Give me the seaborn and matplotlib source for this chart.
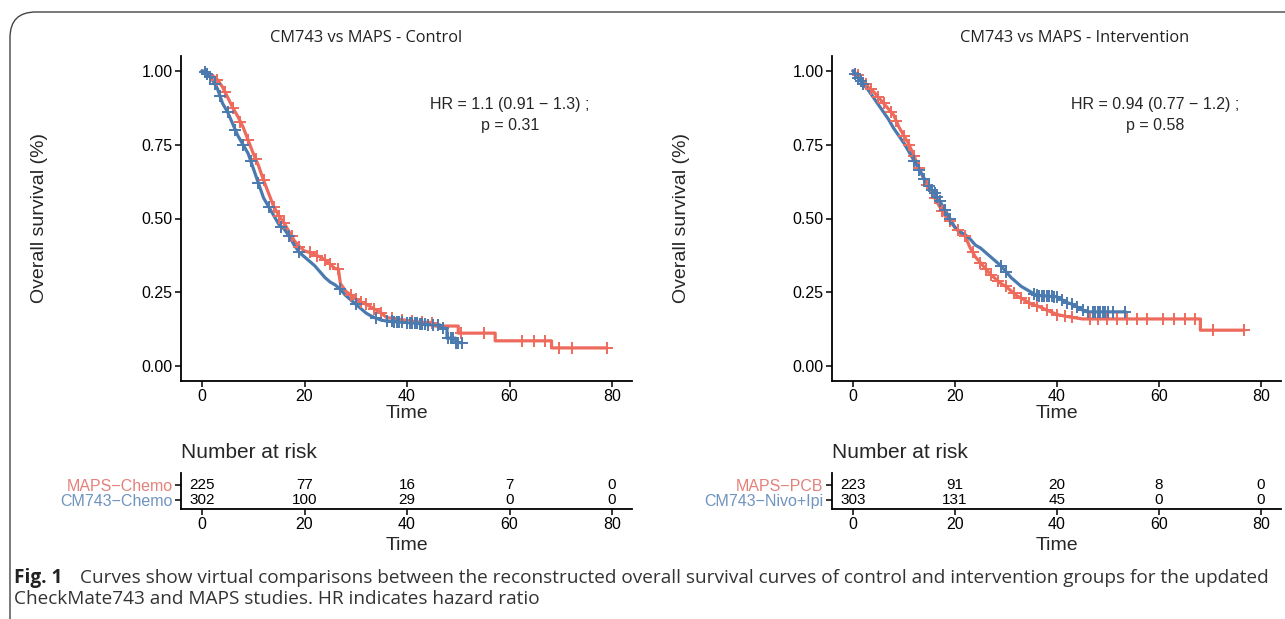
import numpy as np
import pandas as pd
import matplotlib
matplotlib.use("Agg")
import matplotlib.pyplot as plt
import seaborn as sns
from matplotlib.patches import FancyBboxPatch

# ---------------- data (curve vertices) ----------------
# Control panel
ctrl_maps_t = [0, 1, 2, 3, 4, 5, 6, 7, 8, 9, 10, 11, 12, 13, 14, 15, 16, 17, 18, 19, 20, 21, 22, 23, 24, 25, 26,
               26.6, 27, 28, 29, 30, 31, 32, 33, 34, 35, 36, 38, 40, 42, 44.8, 45.5, 50, 50, 57.2, 57.2,
               68.2, 68.2, 79]
ctrl_maps_s = [1.00, 0.995, 0.985, 0.97, 0.945, 0.91, 0.875, 0.845, 0.81, 0.765, 0.72, 0.68, 0.63, 0.585, 0.54,
               0.51, 0.485, 0.455, 0.425, 0.405, 0.39, 0.385, 0.378, 0.37, 0.36, 0.345, 0.33,
               0.33, 0.28, 0.255, 0.24, 0.228, 0.218, 0.21, 0.20, 0.19, 0.18, 0.165, 0.16, 0.155, 0.15,
               0.148, 0.136, 0.136, 0.112, 0.112, 0.086, 0.086, 0.062, 0.062]
ctrl_maps_cens = [3, 4.5, 6, 7.5, 9, 10.5, 12, 14, 15, 16, 17.5, 19, 21, 22.5, 24, 25, 26.5, 29, 30, 31, 32, 33.5,
                  35, 37, 39, 41, 43, 44.8, 50.5, 55, 62.4, 64.8, 67, 69.7, 72.1, 79]

ctrl_cm_t = [0, 1, 2, 3, 4, 5, 6, 7, 8, 9, 10, 11, 12, 13, 14, 15, 16, 17, 18, 19, 20, 21, 22, 23, 24, 25, 26, 27,
             28, 29, 30, 31, 32, 33, 34, 35, 36, 38, 40, 42, 44, 46.4, 46.4, 47.8, 47.8, 49.5, 49.5, 50.7]
ctrl_cm_s = [1.00, 0.99, 0.97, 0.94, 0.89, 0.86, 0.82, 0.78, 0.75, 0.72, 0.67, 0.62, 0.57, 0.54, 0.51, 0.48, 0.465,
             0.44, 0.41, 0.385, 0.37, 0.355, 0.34, 0.32, 0.30, 0.285, 0.275, 0.26, 0.24, 0.225, 0.21, 0.195, 0.18,
             0.17, 0.162, 0.156, 0.153, 0.15, 0.148, 0.145, 0.14, 0.14, 0.128, 0.128, 0.095, 0.095, 0.08, 0.08]
ctrl_cm_cens = [0.5, 1, 1.5, 2.5, 3.5, 5, 6.5, 8, 9.5, 11, 13, 15.5, 17, 19, 27, 30, 34, 36, 37, 37.5, 38, 38.5,
                39, 40, 40.5, 41, 41.5, 42, 42.5, 43, 43.5, 44, 45, 46, 47, 48, 48.5, 49, 49.5, 50, 50.7]

# Intervention panel
int_maps_t = [0, 1, 2, 3, 4, 5, 6, 7, 8, 9, 10, 11, 12, 13, 14, 15, 16, 17, 18, 19, 20, 21, 22, 23, 24, 25, 26, 27,
              28, 29, 30, 31, 32, 33, 34, 35, 36, 37, 38, 40, 42, 45, 68.1, 68.1, 76.7]
int_maps_s = [1.0, 0.985, 0.965, 0.945, 0.93, 0.91, 0.89, 0.87, 0.85, 0.81, 0.78, 0.75, 0.71, 0.67, 0.63, 0.60,
              0.57, 0.54, 0.51, 0.49, 0.47, 0.45, 0.44, 0.40, 0.37, 0.35, 0.33, 0.31, 0.295, 0.28, 0.27, 0.255,
              0.24, 0.23, 0.22, 0.21, 0.205, 0.198, 0.19, 0.175, 0.168, 0.16, 0.16, 0.122, 0.122]
int_maps_cens = [1, 2.5, 3.5, 5, 6, 7.5, 8.5, 10, 11, 12, 13, 14.5, 16, 17.5, 19, 20.5, 22, 23.5, 25, 26, 27, 28.5,
                 30, 31.5, 33, 34.5, 36, 38, 40, 41.5, 43, 46.4, 48, 49.8, 51.7, 53.7, 55.6, 57.6, 60.7, 63, 65,
                 67, 70.5, 76.7]

int_cm_t = [0, 1, 2, 3, 4, 5, 6, 7, 8, 9, 10, 11, 12, 13, 14, 15, 16, 17, 18, 19, 20, 21, 22, 23, 24, 25, 26, 27,
            28, 29, 30, 31, 32, 33, 34, 35, 36, 40, 41, 42, 43, 44, 45, 46, 53.4]
int_cm_s = [1.0, 0.975, 0.955, 0.935, 0.91, 0.885, 0.86, 0.835, 0.805, 0.78, 0.755, 0.725, 0.695, 0.665, 0.635,
            0.61, 0.585, 0.56, 0.53, 0.50, 0.47, 0.455, 0.445, 0.43, 0.41, 0.40, 0.385, 0.37, 0.355, 0.34, 0.32,
            0.30, 0.285, 0.27, 0.26, 0.25, 0.24, 0.235, 0.225, 0.215, 0.21, 0.20, 0.19, 0.184, 0.184]
int_cm_cens = [0.5, 1, 1.5, 2, 12, 13, 14, 15, 15.5, 16, 16.5, 17, 18, 19, 29, 30, 35.5, 36, 36.5, 37, 37.5, 38,
               38.5, 39, 39.5, 40, 41, 42, 43, 44, 45, 46, 47, 47.5, 48, 48.5, 49, 49.5, 50, 51, 53.4]

risk_times = [0, 20, 40, 60, 80]
ctrl_labels = ["MAPS\u2212Chemo", "CM743\u2212Chemo"]
ctrl_risk_maps = [225, 77, 16, 7, 0]
ctrl_risk_cm = [302, 100, 29, 0, 0]
int_labels = ["MAPS\u2212PCB", "CM743\u2212Nivo+Ipi"]
int_risk_maps = [223, 91, 20, 8, 0]
int_risk_cm = [303, 131, 45, 0, 0]

titles = ["CM743 vs MAPS - Control", "CM743 vs MAPS - Intervention"]
hr_texts = ["HR = 1.1 (0.91 \u2212 1.3) ;\np = 0.31", "HR = 0.94 (0.77 \u2212 1.2) ;\np = 0.58"]
y_ticks = [0.00, 0.25, 0.50, 0.75, 1.00]
x_ticks = [0, 20, 40, 60, 80]
caption_bold = "Fig. 1"
caption_1 = "Curves show virtual comparisons between the reconstructed overall survival curves of control and intervention groups for the updated"
caption_2 = "CheckMate743 and MAPS studies. HR indicates hazard ratio"

RED = "#EE6A5C"
BLUE = "#4B7AAF"
RED_LAB = "#E4817B"
BLUE_LAB = "#6F94BE"

# ---------------- style ----------------
sns.set_style("ticks")
plt.rcParams["font.family"] = ["Liberation Sans", "DejaVu Sans"]
CAP_FONT = ["Open Sans", "DejaVu Sans"]

W, H = 1285, 619
fig = plt.figure(figsize=(W / 100, H / 100), dpi=100)
renderer = fig.canvas.get_renderer()


def ax_px(x0, y0, x1, y1):
    return fig.add_axes([x0 / W, 1 - y1 / H, (x1 - x0) / W, (y1 - y0) / H])


def fx(x):
    return x / W


def fy(y):
    return 1 - y / H


def fit_width(txt, target_px):
    bb = txt.get_window_extent(renderer)
    txt.set_fontsize(txt.get_fontsize() * target_px / bb.width)
    return txt


def cens_y(times, surv, cens):
    # place each censor mark on the drawn curve
    return np.interp(cens, times, surv)


def style_axes(ax):
    for side in ["top", "right"]:
        ax.spines[side].set_visible(False)
    for side in ["left", "bottom"]:
        ax.spines[side].set_linewidth(1.3)
        ax.spines[side].set_color("black")
    ax.tick_params(axis="both", length=4, width=1.1, color="black", labelcolor="black",
                   labelsize=11.5, pad=2)


panels = [
    dict(ax=(181, 56, 632, 381), tab=(181, 473, 632, 509), title_x=366, title_w=191, hr_x=510, ylab_x=40,
         series=[(ctrl_maps_t, ctrl_maps_s, ctrl_maps_cens, RED),
                 (ctrl_cm_t, ctrl_cm_s, ctrl_cm_cens, BLUE)],
         labels=ctrl_labels, risks=[ctrl_risk_maps, ctrl_risk_cm], title=titles[0], hr=hr_texts[0]),
    dict(ax=(832, 56, 1281, 381), tab=(832, 473, 1281, 509), title_x=1075, title_w=228, hr_x=1155, ylab_x=681,
         series=[(int_maps_t, int_maps_s, int_maps_cens, RED),
                 (int_cm_t, int_cm_s, int_cm_cens, BLUE)],
         labels=int_labels, risks=[int_risk_maps, int_risk_cm], title=titles[1], hr=hr_texts[1]),
]

for p in panels:
    ax = ax_px(*p["ax"])
    for (t, s, cens, col) in p["series"]:
        df = pd.DataFrame({"t": t, "s": s})
        sns.lineplot(data=df, x="t", y="s", ax=ax, color=col, linewidth=2.3,
                     estimator=None, sort=False)
        sns.scatterplot(x=cens, y=cens_y(t, s, cens), ax=ax, marker="+", s=75,
                        color=col, linewidth=1.4, zorder=3)
    ax.set_xlim(-4.1, 83.9)
    ax.set_ylim(-0.05, 1.05)
    ax.set_xticks(x_ticks)
    ax.set_yticks(y_ticks)
    ax.set_yticklabels([f"{v:.2f}" for v in y_ticks])
    ax.set_xlabel("")
    ax.set_ylabel("")
    style_axes(ax)

    x0, _, x1, _ = p["ax"]
    time_x = x0 + (40 + 4.1) / 88.0 * (x1 - x0)
    fig.text(fx(time_x), fy(414), "Time", ha="center", va="center", fontsize=14)
    fig.text(fx(p["ylab_x"]), fy(218), "Overall survival (%)", rotation=90,
             ha="center", va="center", fontsize=14)
    tt = fig.text(fx(p["title_x"]), fy(38), p["title"], ha="center", va="center",
                  fontsize=12, family=CAP_FONT, color="#222222")
    fit_width(tt, p["title_w"])
    fig.text(fx(p["hr_x"]), fy(115), p["hr"], ha="center", va="center",
             fontsize=11.5, linespacing=1.45)

    # risk table
    tx = ax_px(*p["tab"])
    tx.set_xlim(-4.1, 83.9)
    tx.set_ylim(0.4, 2.8)
    rows = [2, 1]
    for r, vals in zip(rows, p["risks"]):
        for tm, v in zip(risk_times, vals):
            tx.text(tm, r, str(v), ha="center", va="center", fontsize=11, color="black")
    tx.set_xticks(x_ticks)
    tx.set_yticks(rows)
    tx.set_yticklabels(p["labels"])
    style_axes(tx)
    tx.tick_params(axis="y", labelsize=11.5)
    for lab, col in zip(tx.get_yticklabels(), [RED_LAB, BLUE_LAB]):
        lab.set_color(col)
    fig.text(fx(x0), fy(453), "Number at risk", ha="left", va="center", fontsize=15)
    fig.text(fx(time_x), fy(545), "Time", ha="center", va="center", fontsize=14)

# caption
c1 = fig.text(fx(80), fy(578), caption_1, ha="left", va="center", fontsize=12,
              family=CAP_FONT, color="#333333")
fit_width(c1, 1182)
cs = c1.get_fontsize()
fig.text(fx(14), fy(578), caption_bold, ha="left", va="center", fontsize=cs,
         family=CAP_FONT, weight="bold", color="#222222")
fig.text(fx(14), fy(599), caption_2, ha="left", va="center", fontsize=cs,
         family=CAP_FONT, color="#333333")

# rounded frame
frame = FancyBboxPatch((fx(10), fy(660)), fx(1320) - fx(10), fy(12) - fy(660),
                       boxstyle="round,pad=0,rounding_size=0.02", transform=fig.transFigure,
                       fill=False, edgecolor="#444444", linewidth=1.0, mutation_aspect=W / H)
fig.patches.append(frame)

fig.savefig("out.png", dpi=100)
